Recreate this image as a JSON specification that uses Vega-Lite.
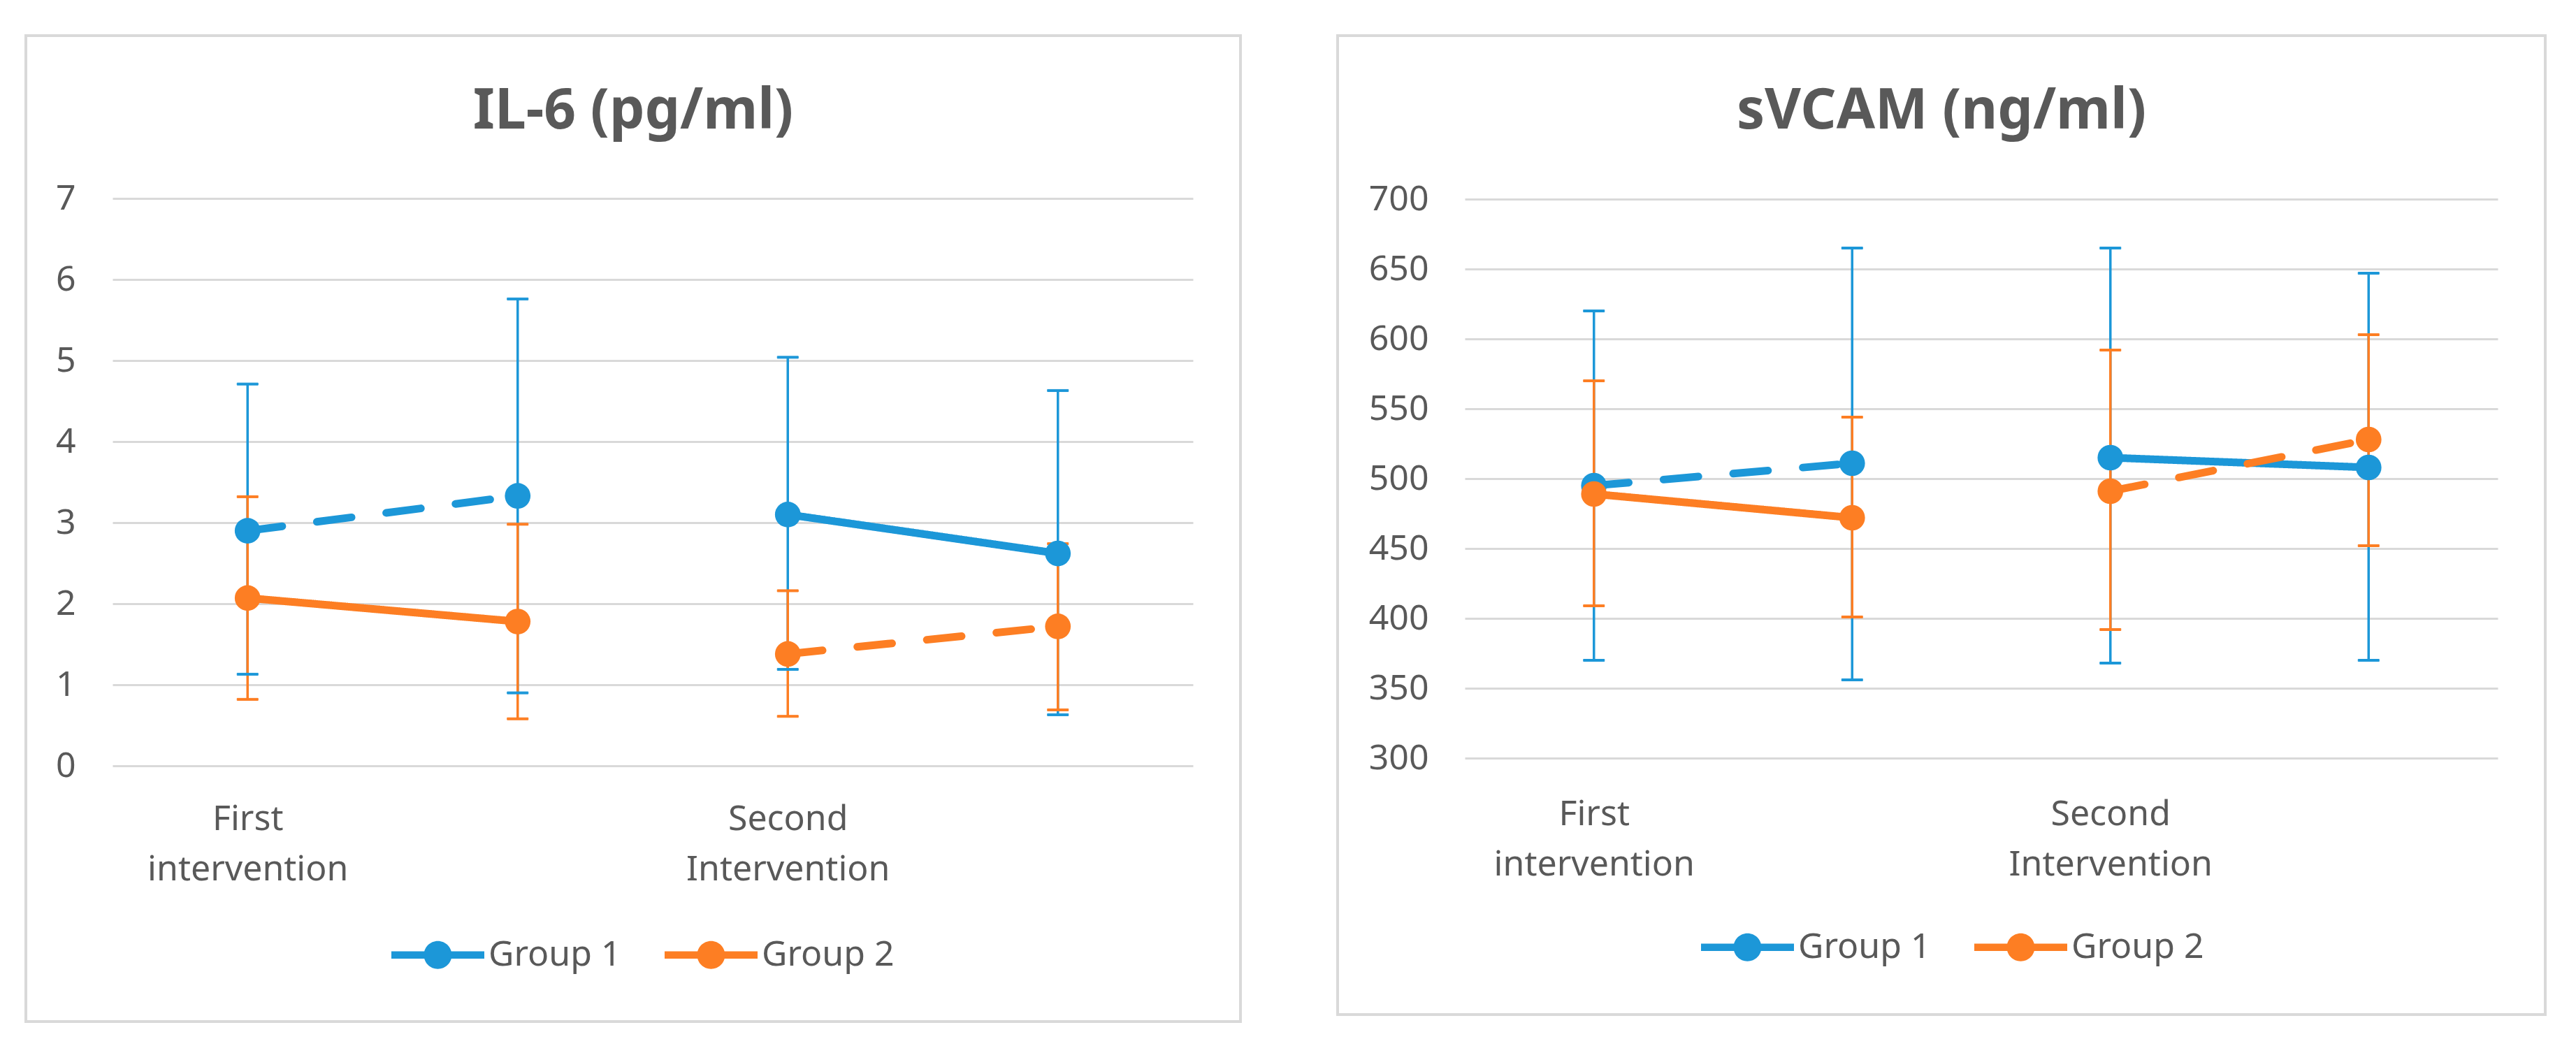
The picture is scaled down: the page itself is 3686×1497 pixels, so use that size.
{
  "$schema": "https://vega.github.io/schema/vega-lite/v6.json",
  "background": "white",
  "padding": {"left": 35, "top": 49, "right": 0, "bottom": 0},
  "config": {
    "font": "Noto Sans",
    "view": {"stroke": "#d9d9d9", "strokeWidth": 4},
    "axis": {"domain": false, "ticks": false, "labelFont": "Noto Sans", "labelFontSize": 50, "labelColor": "#595959", "gridColor": "#d9d9d9", "gridWidth": 3, "labelLimit": 1000}
  },
  "data": {
    "values": [
      {"panel": "IL-6", "group": "Group 1", "intervention": "First", "time": "First-Pre", "condition": "B", "mean": 2.90, "lo": 1.13, "hi": 4.71},
      {"panel": "IL-6", "group": "Group 1", "intervention": "First", "time": "First-Post", "condition": "B", "mean": 3.33, "lo": 0.90, "hi": 5.76},
      {"panel": "IL-6", "group": "Group 1", "intervention": "Second", "time": "Second-Pre", "condition": "A", "mean": 3.10, "lo": 1.19, "hi": 5.04},
      {"panel": "IL-6", "group": "Group 1", "intervention": "Second", "time": "Second-Post", "condition": "A", "mean": 2.62, "lo": 0.63, "hi": 4.63},
      {"panel": "IL-6", "group": "Group 2", "intervention": "First", "time": "First-Pre", "condition": "A", "mean": 2.07, "lo": 0.82, "hi": 3.32},
      {"panel": "IL-6", "group": "Group 2", "intervention": "First", "time": "First-Post", "condition": "A", "mean": 1.78, "lo": 0.58, "hi": 2.98},
      {"panel": "IL-6", "group": "Group 2", "intervention": "Second", "time": "Second-Pre", "condition": "B", "mean": 1.38, "lo": 0.61, "hi": 2.16},
      {"panel": "IL-6", "group": "Group 2", "intervention": "Second", "time": "Second-Post", "condition": "B", "mean": 1.72, "lo": 0.69, "hi": 2.74},
      {"panel": "sVCAM", "group": "Group 1", "intervention": "First", "time": "First-Pre", "condition": "B", "mean": 495, "lo": 370, "hi": 620},
      {"panel": "sVCAM", "group": "Group 1", "intervention": "First", "time": "First-Post", "condition": "B", "mean": 511, "lo": 356, "hi": 665},
      {"panel": "sVCAM", "group": "Group 1", "intervention": "Second", "time": "Second-Pre", "condition": "A", "mean": 515, "lo": 368, "hi": 665},
      {"panel": "sVCAM", "group": "Group 1", "intervention": "Second", "time": "Second-Post", "condition": "A", "mean": 508, "lo": 370, "hi": 647},
      {"panel": "sVCAM", "group": "Group 2", "intervention": "First", "time": "First-Pre", "condition": "A", "mean": 489, "lo": 409, "hi": 570},
      {"panel": "sVCAM", "group": "Group 2", "intervention": "First", "time": "First-Post", "condition": "A", "mean": 472, "lo": 401, "hi": 544},
      {"panel": "sVCAM", "group": "Group 2", "intervention": "Second", "time": "Second-Pre", "condition": "B", "mean": 491, "lo": 392, "hi": 592},
      {"panel": "sVCAM", "group": "Group 2", "intervention": "Second", "time": "Second-Post", "condition": "B", "mean": 528, "lo": 452, "hi": 603}
    ]
  },
  "spacing": 135,
  "resolve": {
    "scale": {"color": "independent", "stroke": "independent", "fill": "independent", "strokeDash": "independent"},
    "legend": {"color": "independent", "stroke": "independent", "fill": "independent", "strokeDash": "independent"}
  },
  "hconcat": [
    {
      "width": 1738,
      "height": 1411,
      "title": {"text": "IL-6 (pg/ml)", "font": "Noto Sans", "fontSize": 80, "fontWeight": "bold", "color": "#595959", "anchor": "middle", "frame": "group", "offset": -150},
      "transform": [{"filter": "datum.panel == 'IL-6'"}],
      "encoding": {
        "x": {
          "field": "time", "type": "ordinal",
          "sort": ["First-Pre", "First-Post", "Second-Pre", "Second-Post"],
          "scale": {"type": "point", "range": [124, 1670], "padding": 0.5},
          "axis": {"title": null, "grid": false, "offset": -366, "labelPadding": 51, "labelAngle": 0, "labelAlign": "center", "labelBaseline": "top", "labelLineHeight": 72, "labelOverlap": false, "labelFlush": false, "labelBound": false, "labelLimit": 1000, "labelExpr": "datum.value == 'First-Pre' ? ['First', 'intervention'] : datum.value == 'Second-Pre' ? ['Second', 'Intervention'] : ''"}
        }
      },
      "layer": [
        {
          "mark": {"type": "rule", "strokeWidth": 3.5},
          "encoding": {
            "y": {"field": "lo", "type": "quantitative", "scale": {"domain": [0, 7], "range": [1045, 233], "nice": false}, "axis": {"title": null, "values": [0, 1, 2, 3, 4, 5, 6, 7], "format": "d", "grid": true, "offset": -124, "labelPadding": 53}},
            "y2": {"field": "hi"},
            "stroke": {"field": "group", "type": "nominal", "scale": {"range": ["#1c97d8", "#fd7e23"]}, "legend": null}
          }
        },
        {"mark": {"type": "tick", "thickness": 3, "size": 30, "opacity": 1}, "encoding": {"y": {"field": "lo", "type": "quantitative"}, "stroke": {"field": "group", "type": "nominal", "legend": null}, "fill": {"field": "group", "type": "nominal", "scale": {"range": ["#1c97d8", "#fd7e23"]}, "legend": null}}},
        {"mark": {"type": "tick", "thickness": 3, "size": 30, "opacity": 1}, "encoding": {"y": {"field": "hi", "type": "quantitative"}, "stroke": {"field": "group", "type": "nominal", "legend": null}, "fill": {"field": "group", "type": "nominal", "legend": null}}},
        {
          "mark": {"type": "line", "strokeWidth": 11, "strokeCap": "round"},
          "encoding": {
            "y": {"field": "mean", "type": "quantitative"},
            "stroke": {"field": "group", "type": "nominal", "legend": null},
            "strokeDash": {"field": "condition", "type": "nominal", "scale": {"domain": ["A", "B"], "range": [[1, 0], [50, 50]]}, "legend": null},
            "detail": {"field": "intervention"}
          }
        },
        {
          "mark": {"type": "circle", "size": 1350, "opacity": 1},
          "encoding": {
            "y": {"field": "mean", "type": "quantitative"},
            "color": {
              "field": "group", "type": "nominal",
              "scale": {"domain": ["Group 1", "Group 2"], "range": ["#1c97d8", "#fd7e23"]},
              "legend": {"orient": "none", "legendX": 523, "legendY": 1249, "direction": "horizontal", "title": null, "symbolType": "M-1,-0.08L1,-0.08L1,0.08L-1,0.08ZM0.3,0A0.3,0.3,0,1,1,-0.3,0A0.3,0.3,0,1,1,0.3,0Z", "symbolSize": 17689, "symbolStrokeWidth": 0, "symbolOpacity": 1, "labelFont": "Noto Sans", "labelFontSize": 50, "labelColor": "#595959", "labelOffset": 6, "columnPadding": 62, "padding": 0, "labelLimit": 1000}
            }
          }
        }
      ]
    },
    {
      "width": 1728,
      "height": 1401,
      "title": {"text": "sVCAM (ng/ml)", "font": "Noto Sans", "fontSize": 80, "fontWeight": "bold", "color": "#595959", "anchor": "middle", "frame": "group", "offset": -150},
      "transform": [{"filter": "datum.panel == 'sVCAM'"}],
      "encoding": {
        "x": {
          "field": "time", "type": "ordinal",
          "sort": ["First-Pre", "First-Post", "Second-Pre", "Second-Post"],
          "scale": {"type": "point", "range": [182, 1660], "padding": 0.5},
          "axis": {"title": null, "grid": false, "offset": -367, "labelPadding": 55, "labelAngle": 0, "labelAlign": "center", "labelBaseline": "top", "labelLineHeight": 72, "labelOverlap": false, "labelFlush": false, "labelBound": false, "labelLimit": 1000, "labelExpr": "datum.value == 'First-Pre' ? ['First', 'intervention'] : datum.value == 'Second-Pre' ? ['Second', 'Intervention'] : ''"}
        }
      },
      "layer": [
        {
          "mark": {"type": "rule", "strokeWidth": 3.5},
          "encoding": {
            "y": {"field": "lo", "type": "quantitative", "scale": {"domain": [300, 700], "range": [1034, 234], "nice": false, "zero": false}, "axis": {"title": null, "values": [300, 350, 400, 450, 500, 550, 600, 650, 700], "format": "d", "grid": true, "offset": -182, "labelPadding": 52}},
            "y2": {"field": "hi"},
            "stroke": {"field": "group", "type": "nominal", "scale": {"range": ["#1c97d8", "#fd7e23"]}, "legend": null}
          }
        },
        {"mark": {"type": "tick", "thickness": 3, "size": 30, "opacity": 1}, "encoding": {"y": {"field": "lo", "type": "quantitative"}, "stroke": {"field": "group", "type": "nominal", "legend": null}, "fill": {"field": "group", "type": "nominal", "scale": {"range": ["#1c97d8", "#fd7e23"]}, "legend": null}}},
        {"mark": {"type": "tick", "thickness": 3, "size": 30, "opacity": 1}, "encoding": {"y": {"field": "hi", "type": "quantitative"}, "stroke": {"field": "group", "type": "nominal", "legend": null}, "fill": {"field": "group", "type": "nominal", "legend": null}}},
        {
          "mark": {"type": "line", "strokeWidth": 11, "strokeCap": "round"},
          "encoding": {
            "y": {"field": "mean", "type": "quantitative"},
            "stroke": {"field": "group", "type": "nominal", "legend": null},
            "strokeDash": {"field": "condition", "type": "nominal", "scale": {"domain": ["A", "B"], "range": [[1, 0], [50, 50]]}, "legend": null},
            "detail": {"field": "intervention"}
          }
        },
        {
          "mark": {"type": "circle", "size": 1350, "opacity": 1},
          "encoding": {
            "y": {"field": "mean", "type": "quantitative"},
            "color": {
              "field": "group", "type": "nominal",
              "scale": {"domain": ["Group 1", "Group 2"], "range": ["#1c97d8", "#fd7e23"]},
              "legend": {"orient": "none", "legendX": 520, "legendY": 1238, "direction": "horizontal", "title": null, "symbolType": "M-1,-0.08L1,-0.08L1,0.08L-1,0.08ZM0.3,0A0.3,0.3,0,1,1,-0.3,0A0.3,0.3,0,1,1,0.3,0Z", "symbolSize": 17689, "symbolStrokeWidth": 0, "symbolOpacity": 1, "labelFont": "Noto Sans", "labelFontSize": 50, "labelColor": "#595959", "labelOffset": 6, "columnPadding": 62, "padding": 0, "labelLimit": 1000}
            }
          }
        }
      ]
    }
  ]
}
